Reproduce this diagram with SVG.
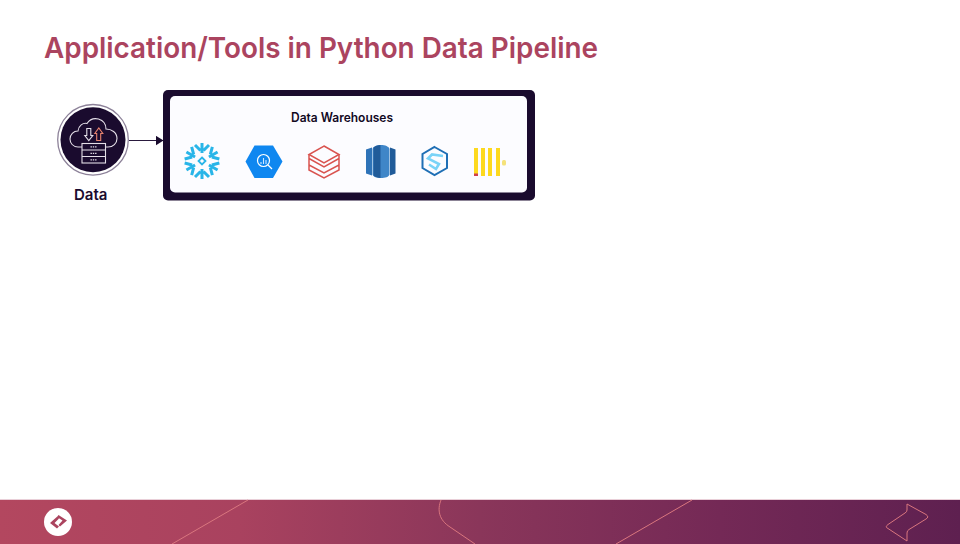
<svg xmlns="http://www.w3.org/2000/svg" width="960" height="544" viewBox="0 0 960 544">
<style>
.t{font-family:"Inter","Liberation Sans",sans-serif;font-weight:600;font-variant-ligatures:none}
.w{fill:none;stroke:#e4dfe8;stroke-width:1.1}
.fl{fill:none;stroke:#d9767e;stroke-width:1}
.bq{fill:none;stroke:#fff;stroke-width:1.2}
.db{fill:none;stroke:#d9534f;stroke-width:1.5;stroke-linejoin:miter}
.sf{fill:none;stroke:#29b5e8;stroke-width:3}
</style>
<defs>
<linearGradient id="foot" x1="0" y1="0" x2="1" y2="0">
<stop offset="0" stop-color="#b3475f"/><stop offset=".25" stop-color="#a9425f"/><stop offset=".5" stop-color="#8a365a"/><stop offset=".75" stop-color="#742956"/><stop offset="1" stop-color="#5e2050"/>
</linearGradient>
<marker id="arr" markerWidth="8" markerHeight="10" refX="7.500" refY="5" orient="auto" markerUnits="userSpaceOnUse"><path d="M0 0L8 5L0 10Z" fill="#1a0b2e"/></marker>
<path id="sfarm" class="sf" d="M0 -18V-8M-7 -16L-1.500 -10.500M7 -16L1.500 -10.500"/>
</defs>
<rect width="960" height="544" fill="#fff"/>
<text id="title" class="t" x="44" y="58" font-size="29" fill="#ab445f" textLength="554" lengthAdjust="spacingAndGlyphs">Application/Tools in Python Data Pipeline</text>

<g id="connectors"><path d="M129 140.500H163" fill="none" stroke="#2a1a3e" stroke-width="1" marker-end="url(#arr)"/></g>

<g id="node-data">
<circle cx="93" cy="139.800" r="35.300" fill="#fff" stroke="#8d8299" stroke-width="1.300"/>
<circle cx="93" cy="139.800" r="32.500" fill="#1a0b2e"/>
<path class="w" d="M82 147H78C73 147 70 143 70 139C70 134.500 73.500 131 78 131C78.500 125.500 83 122.500 87 123.500C89.500 119.500 94 118 98.500 119C103.500 120.500 106 124.500 106 129C111.500 129 117 132.500 117 138.500C117 143.500 113 147 108 147H105"/>
<path class="w" d="M86.800 128.500H90.800V135.500H92.800L88.800 140.500L84.800 135.500H86.800Z"/>
<path d="M96.700 140.500V133.500H94.800L98.800 128L102.800 133.500H100.700V140.500Z" fill="none" stroke="#e8836f" stroke-width="1.100"/>
<rect class="w" x="82" y="143.500" width="23.500" height="19.500"/>
<path class="w" d="M82 150H105.500M82 156.500H105.500"/>
<path d="M90.500 146.800h6.500M90.500 153.300h6.500M90.500 159.800h6.500" stroke="#e4dfe8" stroke-width="1.200" stroke-dasharray="1.400 .9" fill="none"/>
<text class="t" x="74" y="199.500" font-size="15" fill="#1a0b2e" textLength="33.500" lengthAdjust="spacingAndGlyphs">Data</text>
</g>

<g id="node-warehouses">
<rect x="163" y="90" width="372" height="110.500" rx="5" fill="#1a0b2e"/>
<rect x="170" y="96" width="357" height="96.500" rx="5" fill="#fcfcff"/>
<text class="t" x="291" y="122" font-size="12.500" fill="#12091f" textLength="102" lengthAdjust="spacingAndGlyphs">Data Warehouses</text>
</g>

<g id="icon-snowflake">
<use href="#sfarm" transform="translate(202 161)"/>
<use href="#sfarm" transform="translate(202 161) rotate(60)"/>
<use href="#sfarm" transform="translate(202 161) rotate(120)"/>
<use href="#sfarm" transform="translate(202 161) rotate(180)"/>
<use href="#sfarm" transform="translate(202 161) rotate(240)"/>
<use href="#sfarm" transform="translate(202 161) rotate(300)"/>
<path d="M202 157.500L205.500 161L202 164.500L198.500 161Z" fill="none" stroke="#29b5e8" stroke-width="1.800"/>
</g>

<g id="icon-bigquery">
<path d="M245.500 161.500L254.500 145.500H273L282.500 161.500L273 178H254.500Z" fill="#0f87f0"/>
<circle class="bq" cx="263.500" cy="160.500" r="6"/>
<path class="bq" d="M268 165L272 169"/>
<path d="M261 162v2M263.500 158v6M266 160v4" stroke="#cfe6ff" stroke-width="1.100"/>
</g>

<g id="icon-databricks">
<path class="db" d="M324 146L339 154.500L324 163L309 154.500Z"/>
<path class="db" d="M309 154.500V158.500L324 167L339 158.500V154.500M309 158.500V165L324 173L339 165V158.500M309 165V170L324 178L339 170V165"/>
</g>

<g id="icon-redshift">
<path d="M366 149.500L372 147.500V175.500L366 173.500Z" fill="#2e73b8"/>
<path d="M390 147.500L395.500 149.500V173.500L390 175.500Z" fill="#205b99"/>
<path d="M372.500 149C373 146.500 377 145 381 145C385 145 389 146.500 389.500 149V174.500C389 177 385 178 381 178C377 178 373 177 372.500 174.500Z" fill="#3f86c8"/>
<path d="M373.500 147.500C375 146 378 145.200 380.500 145V178C378 177.800 375 177 373.500 175.500Z" fill="#205b99"/>
</g>

<g id="icon-synapse">
<path d="M434.500 147L447 154V168L434.500 175L422.500 168V154Z" fill="#fcfcff" stroke="#1f6fb5" stroke-width="2"/>
<path d="M443 156L432 154.500L428 158.500L439 164L436 169L429 164.500" fill="none" stroke="#7ad3f7" stroke-width="2.600"/>
</g>

<g id="icon-clickhouse">
<path d="M474 148h4v28h-4zM481 148h4v28h-4zM488 148h4v28h-4zM496 148h4v28h-4z" fill="#fdd91f"/>
<rect x="474" y="173.500" width="4" height="2.500" fill="#d0404c"/>
<rect x="502" y="160" width="4" height="5.500" rx="1.500" fill="#f5e27a"/>
</g>

<g id="footer">
<rect y="500" width="960" height="44" fill="url(#foot)"/>
<path d="M0 499.500H960" stroke="#e9cfd8" stroke-width="1"/>
<path class="fl" d="M248 500L172 544M692 500L616 544"/>
<path class="fl" d="M441 500C437 510 439 520 450 527L475 544"/>
<path class="fl" d="M907 504L926 514.500Q929.500 517 926 519L909 529.500Q907 530.500 907 533V541L888 528.500Q884.500 527 888 524.500L905 513Q907 512 907 510Z"/>
<circle cx="58" cy="522" r="14" fill="#fff"/>
<path d="M50 523L57 516.800L59 518.500L54.500 523L59 526.500L57 528.500ZM58.500 515L67 520.500L60 526.500L58.500 525L62.500 520.500L57 517Z" fill="#ab445f"/>
</g>
</svg>
